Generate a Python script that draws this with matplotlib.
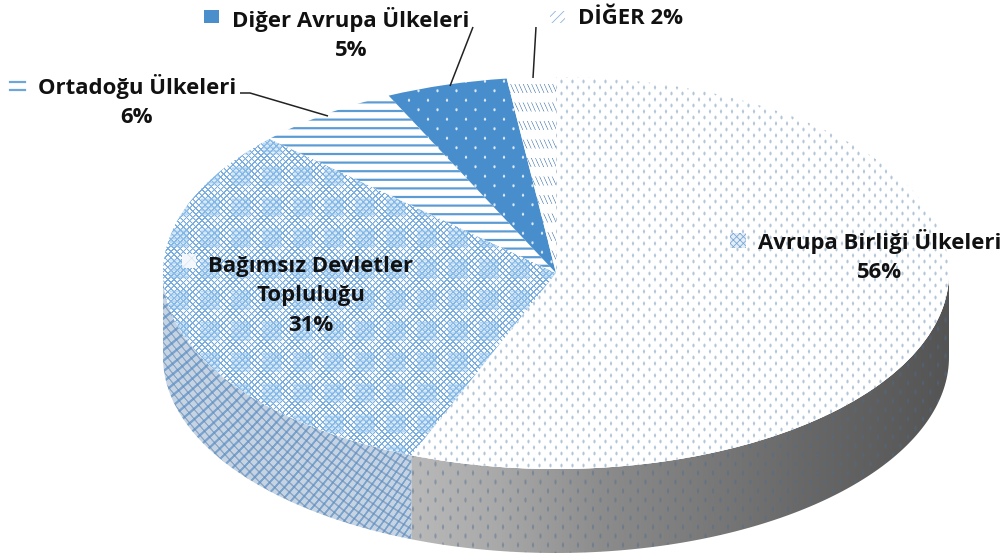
#!/usr/bin/env python3

import matplotlib
matplotlib.use('Agg')
import matplotlib.pyplot as plt
from matplotlib.patches import Polygon, Rectangle
import numpy as np

names = ['Avrupa Birliği Ülkeleri', 'Bağımsız Devletler\nTopluluğu', 'Ortadoğu Ülkeleri',
         'Diğer Avrupa Ülkeleri', 'DİĞER']
shares = [56, 31, 6, 5, 2]

W, H = 1006, 556
CX, CY, RX, RY = 556, 273, 393, 196
DEPTH = 84 / RY
BLUE = np.array([0.29, 0.56, 0.80])

Y, X = np.mgrid[0:H, 0:W].astype(float)


def dots(px, py, rx, ry):
    # soft staggered dots, 1 on a dot and 0 elsewhere
    row = np.floor(Y / py)
    dx = ((X + (row % 2) * px / 2) % px) - px / 2
    dy = (Y % py) - py / 2
    return np.clip(1.6 - np.hypot(dx / rx, dy / ry), 0, 1)


def paint(base, colour, mask):
    return base * (1 - mask[..., None]) + np.asarray(colour) * mask[..., None]


def white():
    return np.ones((H, W, 3))


def lattice(p, sharp=3.0):
    a = np.cos(2 * np.pi * (X + Y) / p)
    b = np.cos(2 * np.pi * (X - Y) / p)
    return np.clip(np.maximum(a, b) * sharp - sharp + 1.6, 0, 1)


def tex_ab():
    return paint(white(), (0.60, 0.70, 0.80), dots(11, 6, 1.0, 1.6) * 0.75)


def tex_bdt():
    img = paint(white(), (0.42, 0.64, 0.86), lattice(6.2) * 0.9)
    gx = np.abs((X - 8) % 31 - 15.5)
    gy = np.abs((Y - 5) % 31 - 15.5)
    cell = np.clip(10 - np.maximum(gx, gy), 0, 1)
    fine = 0.5 + 0.2 * np.cos(2 * np.pi * Y / 3.5)
    return paint(img, (0.58, 0.77, 0.93), cell * fine)


def tex_orta():
    stripe = np.clip(1.6 - np.abs((Y - 3) % 8.6 - 4.3), 0, 1)
    return paint(white(), (0.36, 0.61, 0.83), stripe)


def tex_avrupa():
    img = np.ones((H, W, 3)) * BLUE
    return paint(img, (0.93, 0.96, 0.99), dots(19, 9.5, 1.0, 1.3) * 0.9)


def tex_diger():
    s = np.clip(1.0 - 1.2 * np.abs(((X - 0.45 * Y) % 4.2) - 2.1), 0, 1)
    band = np.clip(5 - np.abs(((Y - 82) % 18.5) - 6), 0, 1)
    stop = np.clip(559 - X, 0, 1)
    return paint(white(), (0.45, 0.60, 0.76), s * band * stop)


def wall_grey():
    grey = np.interp(X, [420, 500, 600, 800, 948], [0.72, 0.66, 0.55, 0.41, 0.33])
    return np.dstack([grey, grey, grey])


def tex_wall_ab():
    img = wall_grey()
    return paint(img, (0.30, 0.42, 0.55), dots(15, 9, 1.0, 2.2) * 0.45)


def tex_wall_bdt():
    # two slightly bent line sets so the crossings drift like the original
    img = np.ones((H, W, 3)) * np.array((0.78, 0.83, 0.89))
    a = np.cos(2 * np.pi * (X + 0.9 * Y + 0.0012 * (X - 280) ** 2) / 9.5)
    b = np.cos(2 * np.pi * (X - 1.1 * Y - 0.0015 * (X - 300) ** 2) / 10.5)
    img = paint(img, (0.34, 0.56, 0.78), np.clip(a * 2 - 0.7, 0, 1) * 0.7)
    return paint(img, (0.40, 0.54, 0.70), np.clip(b * 2 - 1.1, 0, 1) * 0.7)


fig = plt.figure(figsize=(W / 100, H / 100), dpi=100)
ax = fig.add_axes([0, 0, 1, 1])
wedges, _ = ax.pie(shares, startangle=90, counterclock=False, radius=1,
                   colors=['white'] * len(shares), wedgeprops={'linewidth': 0, 'zorder': 3})
ax.set_aspect('auto')
extent = ((0 - CX) / RX, (W - CX) / RX, (CY - H) / RY, CY / RY)


def textured(img, clip, z):
    im = ax.imshow(img, extent=extent, aspect='auto', interpolation='bilinear', zorder=z)
    im.set_clip_path(clip)


# side wall follows the front arc of the slices
stops = 90 - np.cumsum(shares) * 3.6
for start, end, tex in [(0, stops[0], tex_wall_ab()), (stops[0], -180, tex_wall_bdt())]:
    t = np.radians(np.linspace(start, end, 120))
    top = np.column_stack([np.cos(t), np.sin(t)])
    low = top[::-1] - [0, DEPTH]
    poly = Polygon(np.vstack([top, low]), closed=True, fc='none', ec='none', zorder=1)
    ax.add_patch(poly)
    textured(tex, poly, 1)

for w, tex in zip(wedges, [tex_ab(), tex_bdt(), tex_orta(), tex_avrupa(), tex_diger()]):
    textured(tex, w, 4)

ax.set_xlim(extent[0], extent[1])
ax.set_ylim(extent[2], extent[3])
ax.set_axis_off()

# labels and leader lines in picture pixels
top_ax = fig.add_axes([0, 0, 1, 1], xlim=(0, W), ylim=(H, 0))
top_ax.set_axis_off()
top_ax.patch.set_alpha(0)
font = dict(family='Open Sans', fontweight='bold', fontsize=15.9, color='#111111',
            ha='center', va='center', linespacing=1.55)

top_ax.text(880, 256, f'{names[0]}\n{shares[0]}%', **font)
top_ax.text(311, 296, f'{names[1]}\n{shares[1]}%', **font)
top_ax.text(137, 101, f'{names[2]}\n{shares[2]}%', **font)
top_ax.text(351, 34, f'{names[3]}\n{shares[3]}%', **font)
top_ax.text(631, 18, f'{names[4]} {shares[4]}%', **font)

for xs, ys in [([473, 450], [27, 86]), ([536, 533], [27, 78]), ([240, 250, 328], [93, 93, 116])]:
    top_ax.plot(xs, ys, color='#222222', lw=1.1, solid_capstyle='butt')

top_ax.add_patch(Rectangle((204, 10), 15, 13, fc=BLUE, ec='none'))
for yy in (82, 90):
    top_ax.plot([10, 25], [yy, yy], color='#6ea6d8', lw=1.6)
plt.rcParams['hatch.linewidth'] = 0.6
top_ax.add_patch(Rectangle((550, 11), 15, 12, fc='white', ec='#8fb4d8', lw=0, hatch='////'))
top_ax.add_patch(Rectangle((730, 233), 16, 15, fc='#e4eef8', ec='#7ba9d4', lw=0, hatch='xxxxx'))
top_ax.add_patch(Rectangle((182, 254), 14, 14, fc='#f4f8fc', ec='#dce8f4', lw=0, hatch='xx'))

fig.savefig('out.png', dpi=100)
